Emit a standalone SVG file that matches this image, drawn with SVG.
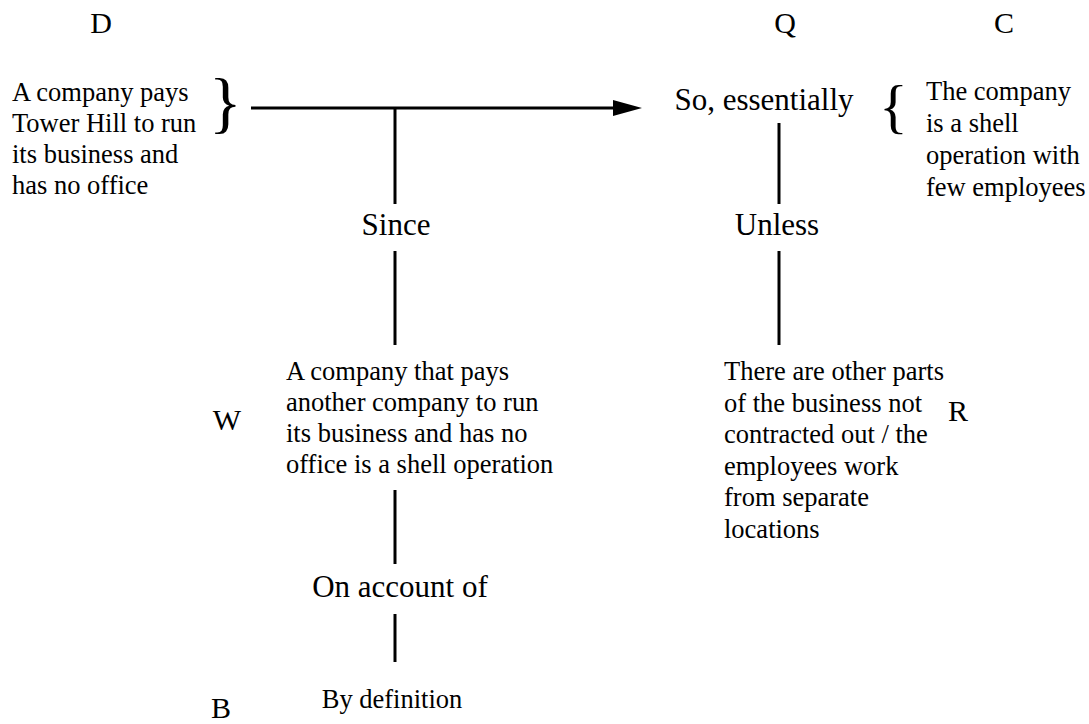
<svg xmlns="http://www.w3.org/2000/svg" width="1089" height="724" viewBox="0 0 1089 724">
<style>
text{font-family:"Liberation Serif","Times New Roman",serif;fill:#000}
.lab{font-size:30px;text-anchor:middle}
.big{font-size:31px;text-anchor:middle}
.body{font-size:26.5px}
.ln{stroke:#000;stroke-width:3;fill:none}
</style>
<rect width="1089" height="724" fill="#fff"/>
<g id="letters">
<text class="lab" x="101" y="33">D</text>
<text class="lab" x="785" y="33">Q</text>
<text class="lab" x="1004" y="33">C</text>
<text class="lab" x="227" y="430">W</text>
<text class="lab" x="958" y="421">R</text>
<text class="lab" x="221" y="718">B</text>
</g>
<g id="data">
<text class="body" x="12" y="101">A company pays</text>
<text class="body" x="12" y="132">Tower Hill to run</text>
<text class="body" x="12" y="163">its business and</text>
<text class="body" x="12" y="194">has no office</text>
<text x="209" y="125" font-size="68">}</text>
</g>
<g id="qualifier">
<text class="big" x="764" y="110">So, essentially</text>
</g>
<g id="claim">
<text x="879" y="126" font-size="60">{</text>
<text class="body" x="926" y="100">The company</text>
<text class="body" x="926" y="132">is a shell</text>
<text class="body" x="926" y="164">operation with</text>
<text class="body" x="926" y="196">few employees</text>
</g>
<g id="since"><text class="big" x="396" y="235">Since</text></g>
<g id="unless"><text class="big" x="777" y="235">Unless</text></g>
<g id="warrant">
<text class="body" x="286" y="380">A company that pays</text>
<text class="body" x="286" y="411">another company to run</text>
<text class="body" x="286" y="442">its business and has no</text>
<text class="body" x="286" y="473">office is a shell operation</text>
</g>
<g id="rebuttal">
<text class="body" x="724" y="380">There are other parts</text>
<text class="body" x="724" y="411.5">of the business not</text>
<text class="body" x="724" y="443">contracted out / the</text>
<text class="body" x="724" y="474.5">employees work</text>
<text class="body" x="724" y="506">from separate</text>
<text class="body" x="724" y="537.5">locations</text>
</g>
<g id="onaccount"><text class="big" x="400" y="597" font-size="32.5">On account of</text></g>
<g id="backing"><text class="body" x="392" y="708" text-anchor="middle">By definition</text></g>
<g id="connectors">
<line class="ln" x1="251" y1="108" x2="615" y2="108"/>
<polygon points="613,100 642,108 613,116" fill="#000"/>
<line class="ln" x1="395" y1="108" x2="395" y2="204"/>
<line class="ln" x1="395" y1="251" x2="395" y2="345"/>
<line class="ln" x1="395" y1="490" x2="395" y2="564"/>
<line class="ln" x1="395" y1="614" x2="395" y2="662"/>
<line class="ln" x1="779" y1="123" x2="779" y2="204"/>
<line class="ln" x1="779" y1="251" x2="779" y2="345"/>
</g>
</svg>
